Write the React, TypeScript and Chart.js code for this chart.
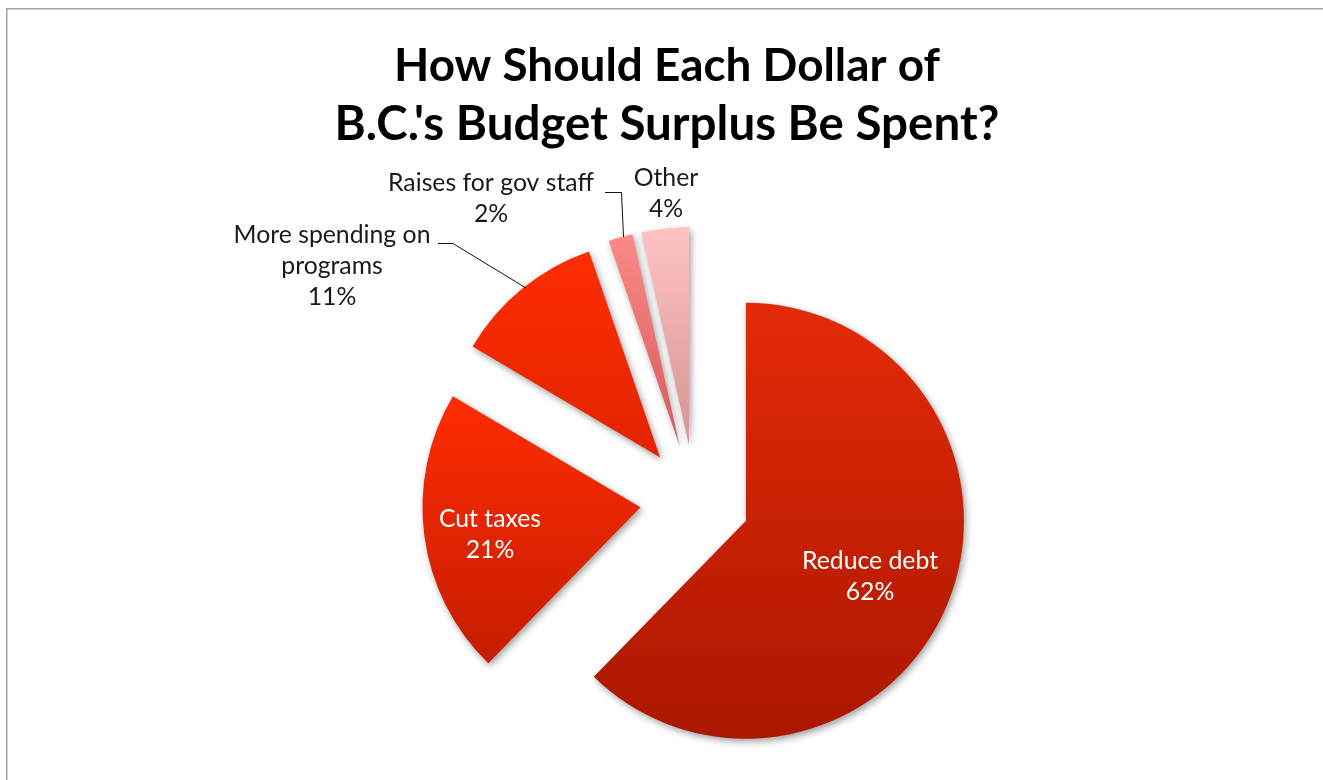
import React, { useEffect, useRef } from "react";
import { Chart, registerables } from "chart.js";

Chart.register(...registerables);

const TITLE_LINES = ["How Should Each Dollar of", "B.C.'s Budget Surplus Be Spent?"];
const CATEGORY_LINES = [
  ["Reduce debt"],
  ["Cut taxes"],
  ["More spending on", "programs"],
  ["Raises for gov staff"],
  ["Other"],
];
const CATEGORIES = CATEGORY_LINES.map((l) => l.join(" "));
const VALUES = [62.3, 21.2, 11.2, 1.8, 3.5];
const TOP_COLORS = ["#e42a08", "#ff2c02", "#ff2c02", "#fb8a88", "#ffc2c2"];
const BOTTOM_COLORS = ["#ab1700", "#c61c00", "#e22400", "#d55a58", "#d59494"];

const FONT = "Lato, 'Open Sans', sans-serif";
const EXPLODE = 55;

function fitSize(ctx: CanvasRenderingContext2D, text: string, weight: string, target: number) {
  ctx.font = `${weight} 100px ${FONT}`;
  const w = ctx.measureText(text).width;
  return (100 * target) / w;
}

const explodePlugin = {
  id: "explode",
  afterDatasetUpdate(chart: any, args: any) {
    const meta = args.meta;
    meta.data.forEach((arc: any, i: number) => {
      const mid = (arc.startAngle + arc.endAngle) / 2;
      arc.x += Math.cos(mid) * EXPLODE;
      arc.y += Math.sin(mid) * EXPLODE;
      const r = arc.outerRadius;
      const ys = [arc.y, arc.y + Math.sin(arc.startAngle) * r, arc.y + Math.sin(arc.endAngle) * r];
      for (let k = -3; k <= 3; k++) {
        const a = Math.PI / 2 + k * Math.PI;
        if (a > arc.startAngle && a < arc.endAngle) ys.push(arc.y + Math.sin(a) * r);
      }
      const y0 = Math.min(...ys);
      const y1 = Math.max(...ys);
      const g = chart.ctx.createLinearGradient(0, y0, 0, y1);
      g.addColorStop(0, TOP_COLORS[i]);
      g.addColorStop(1, BOTTOM_COLORS[i]);
      try {
        arc.options.backgroundColor = g;
      } catch (e) {
        arc.options = Object.assign({}, arc.options, { backgroundColor: g });
      }
    });
  },
  beforeDatasetsDraw(chart: any) {
    const ctx = chart.ctx;
    ctx.save();
    ctx.shadowColor = "rgba(0,0,0,0.38)";
    ctx.shadowBlur = 7;
    ctx.shadowOffsetX = 2;
    ctx.shadowOffsetY = 3;
  },
  afterDatasetsDraw(chart: any) {
    chart.ctx.restore();
  },
};

const textPlugin = {
  id: "texts",
  beforeDraw(chart: any) {
    const ctx = chart.ctx;
    ctx.save();
    ctx.fillStyle = "#ffffff";
    ctx.fillRect(0, 0, chart.width, chart.height);
    ctx.fillStyle = "#a4a4a4";
    ctx.fillRect(6, 8, chart.width - 6, 1.5);
    ctx.fillRect(6, 8, 1.5, chart.height - 8);
    ctx.restore();
  },
  afterDraw(chart: any) {
    const ctx: CanvasRenderingContext2D = chart.ctx;
    ctx.save();
    // Title
    ctx.fillStyle = "#000000";
    ctx.textAlign = "center";
    ctx.textBaseline = "alphabetic";
    const t1 = fitSize(ctx, TITLE_LINES[0], "bold", 546);
    ctx.font = `bold ${t1}px ${FONT}`;
    ctx.fillText(TITLE_LINES[0], 667, 81);
    const t2 = fitSize(ctx, TITLE_LINES[1], "bold", 665);
    ctx.font = `bold ${t2}px ${FONT}`;
    ctx.fillText(TITLE_LINES[1], 667, 140);

    // Labels
    const lSize = fitSize(ctx, CATEGORY_LINES[2][0], "normal", 197);
    ctx.font = `normal ${lSize}px ${FONT}`;
    const lh = 31;
    const anchors = [
      { x: 870, y: 569, color: "#ffffff" },
      { x: 490, y: 527, color: "#ffffff" },
      { x: 332, y: 243, color: "#1a1a1a" },
      { x: 491, y: 191, color: "#1a1a1a" },
      { x: 666, y: 186, color: "#1a1a1a" },
    ];
    CATEGORY_LINES.forEach((lines, i) => {
      const a = anchors[i];
      ctx.fillStyle = a.color;
      const all = [...lines, `${Math.round(VALUES[i])}%`];
      all.forEach((t, j) => ctx.fillText(t, a.x, a.y + j * lh));
    });

    // Leader lines
    ctx.strokeStyle = "#111111";
    ctx.lineWidth = 1;
    ctx.beginPath();
    ctx.moveTo(438, 243.5);
    ctx.lineTo(453, 243.5);
    ctx.lineTo(526, 288);
    ctx.moveTo(605, 192.5);
    ctx.lineTo(621.5, 192.5);
    ctx.lineTo(623.5, 237);
    ctx.stroke();
    ctx.restore();
  },
};

export default function App() {
  const ref = useRef<HTMLCanvasElement | null>(null);
  useEffect(() => {
    if (!ref.current) return;
    const chart = new Chart(ref.current, {
      type: "pie",
      data: {
        labels: CATEGORIES,
        datasets: [
          {
            data: VALUES,
            backgroundColor: TOP_COLORS,
            borderWidth: 0,
            radius: 218,
          } as any,
        ],
      },
      options: {
        animation: false,
        responsive: false,
        maintainAspectRatio: false,
        events: [],
        layout: { padding: { left: 395, right: 328, top: 220, bottom: 0 } },
        plugins: {
          legend: { display: false },
          tooltip: { enabled: false },
          title: { display: false },
        },
      },
      plugins: [textPlugin, explodePlugin],
    });
    return () => chart.destroy();
  }, []);
  return (
    <div style={{ position: "absolute", left: 0, top: 0, width: 1323, height: 780, overflow: "hidden" }}>
      <canvas ref={ref} width={1323} height={780} style={{ display: "block" }} />
    </div>
  );
}
